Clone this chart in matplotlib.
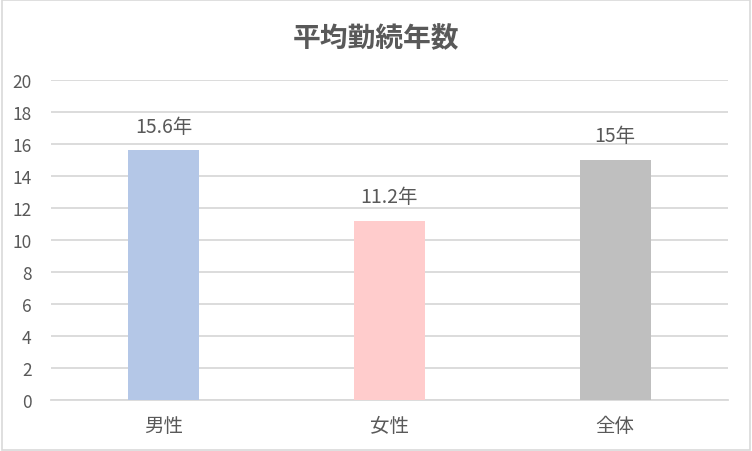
import matplotlib
matplotlib.use("Agg")
import matplotlib.pyplot as plt
from matplotlib.patches import Rectangle

plt.rcParams['font.family'] = ['Noto Sans CJK JP', 'DejaVu Sans']

# data
categories = ['男性', '女性', '全体']
years = [15.6, 11.2, 15]
labels = ['15.6年', '11.2年', '15年']
colors = ['#B4C7E7', '#FFCCCC', '#BFBFBF']
yticks = [0, 2, 4, 6, 8, 10, 12, 14, 16, 18, 20]

txt = '#595959'
grid = '#D9D9D9'

fig = plt.figure(figsize=(7.52, 4.52), dpi=100)
ax = fig.add_axes([0.0678, 0.1128, 0.9002, 0.708])

xs = range(len(categories))
ax.bar(xs, years, width=0.315, color=colors, zorder=3)
for x, v, lab in zip(xs, years, labels):
    ax.annotate(lab, (x, v), xytext=(0, 10), textcoords='offset points',
                ha='center', va='bottom', fontsize=14, color=txt)

ax.set_xlim(-0.5, 2.5)
ax.set_ylim(0, 20)
ax.set_yticks(yticks)
ax.set_xticks(list(xs))
ax.set_xticklabels(categories, fontsize=14)
ax.yaxis.grid(True, color=grid, linewidth=1.3, zorder=0)
ax.tick_params(axis='both', length=0, labelcolor=txt)
ax.tick_params(axis='y', pad=14, labelsize=12.5)
ax.tick_params(axis='x', pad=11)
for s in ['top', 'right', 'left']:
    ax.spines[s].set_visible(False)
ax.spines['bottom'].set_color(grid)
ax.spines['bottom'].set_linewidth(1.3)

fig.text(0.5, 0.913, '平均勤続年数', ha='center', va='center',
         fontsize=20, fontweight='bold', color=txt)

fig.patches.append(Rectangle((0.002, 0.003), 0.995, 0.994, transform=fig.transFigure,
                             fill=False, edgecolor='#D9D9D9', linewidth=1.2))

fig.savefig('out.png', dpi=100)
